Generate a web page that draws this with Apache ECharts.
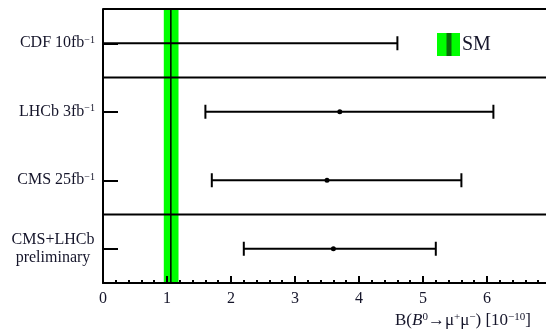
<!DOCTYPE html>
<html><head><meta charset="utf-8">
<script src="https://cdn.jsdelivr.net/npm/echarts@6/dist/echarts.min.js"></script>
<style>html,body{margin:0;padding:0;background:#fff}#c{width:546px;height:335px}</style>
</head><body><div id="c"></div>
<script>
const categories = ['CDF 10fb⁻¹', 'LHCb 3fb⁻¹', 'CMS 25fb⁻¹', 'CMS+LHCb\npreliminary'];
const lowEdge = [0, 1.6, 1.7, 2.2];
const highEdge = [4.6, 6.1, 5.6, 5.2];
const central = [null, 3.7, 3.5, 3.6];
const smLow = 0.95, smHigh = 1.18, smCentral = 1.06;
const rowBoundaries = [0, 1, 3];
const xMin = 0, xMax = 7, xStep = 1;
const axisTitle = '{n|B(}{i|B}{s|0}{n|→μ}{s|+}{n|μ}{s|−}{n|) [10}{s|−10}{n|]}';

const FONT = 'Liberation Serif';
const TXT = '#15152a';
const chart = echarts.init(document.getElementById('c'), null, {renderer: 'canvas'});

function fmtCat(v) {
  if (v.indexOf('\n') >= 0) {
    return v.split('\n').map(s => '{c|' + s + '}').join('\n');
  }
  return v.replace('⁻¹', '{s|−1}').replace(/^(.*?)\{/, '{n|$1}{');
}

chart.setOption({
  animation: false,
  grid: {left: 103, top: 9, width: 448, height: 274, containLabel: false, outerBoundsMode: 'none'},
  xAxis: [{
    type: 'value', min: xMin, max: xMax, interval: xStep, position: 'bottom', z: 6,
    splitLine: {show: false},
    axisLine: {show: true, onZero: false, lineStyle: {color: '#000', width: 2}},
    axisTick: {show: true, inside: true, length: 7, lineStyle: {color: '#000', width: 2}},
    minorTick: {show: true, splitNumber: 5, length: 3, lineStyle: {color: '#000', width: 2}},
    axisLabel: {fontFamily: FONT, fontSize: 16, color: TXT, margin: 8}
  }],
  yAxis: [{
    type: 'category', data: categories, inverse: true, z: 6,
    axisLine: {show: true, onZero: false, lineStyle: {color: '#000', width: 2}},
    axisTick: {show: true, inside: true, alignWithLabel: true, interval: 0, length: 15, lineStyle: {color: '#000', width: 2}},
    splitLine: {show: false},
    axisLabel: {
      interval: 0, margin: 8, color: TXT, fontFamily: FONT, fontSize: 16,
      formatter: fmtCat,
      rich: {
        n: {fontFamily: FONT, fontSize: 16, color: TXT},
        s: {fontFamily: FONT, fontSize: 10, color: TXT, verticalAlign: 'top', lineHeight: 16},
        c: {fontFamily: FONT, fontSize: 16, color: TXT, width: 84, align: 'center', lineHeight: 18}
      }
    }
  }, {
    type: 'value', min: 0, max: categories.length, inverse: true, show: false
  }],
  graphic: [
    {type: 'rect', shape: {x: 437, y: 33, width: 23, height: 23}, style: {fill: '#00ff00'}},
    {type: 'line', shape: {x1: 449, y1: 33, x2: 449, y2: 56}, style: {stroke: '#0a6a0a', lineWidth: 5}},
    {type: 'text', x: 462, y: 45, style: {text: 'SM', fontFamily: FONT, fontSize: 20, fill: TXT, verticalAlign: 'middle'}},
    {type: 'text', x: 395, y: 312, style: {
      text: axisTitle, verticalAlign: 'top',
      rich: {
        n: {fontFamily: FONT, fontSize: 17, fill: TXT, lineHeight: 18},
        i: {fontFamily: FONT, fontSize: 17, fontStyle: 'italic', fill: TXT, lineHeight: 18},
        s: {fontFamily: FONT, fontSize: 11, fill: TXT, verticalAlign: 'top', lineHeight: 18}
      }
    }}
  ],
  series: [{
    type: 'custom', name: 'SM', xAxisIndex: 0, yAxisIndex: 1, z: 1, silent: true,
    data: [[smLow, smHigh, smCentral]],
    renderItem: function (params, api) {
      const cs = params.coordSys;
      const a = api.coord([api.value(0), 0]);
      const b = api.coord([api.value(1), 0]);
      const c = api.coord([api.value(2), 0]);
      return {type: 'group', children: [
        {type: 'rect', shape: {x: a[0], y: cs.y, width: b[0] - a[0], height: cs.height}, style: {fill: '#00ff00'}},
        {type: 'line', shape: {x1: c[0], y1: cs.y, x2: c[0], y2: cs.y + cs.height}, style: {stroke: '#000', lineWidth: 1.5}}
      ]};
    }
  }, {
    type: 'custom', name: 'rowBoundaries', xAxisIndex: 0, yAxisIndex: 1, z: 3, silent: true,
    data: rowBoundaries.map(s => [s]),
    renderItem: function (params, api) {
      const cs = params.coordSys;
      const p = api.coord([0, api.value(0)]);
      return {type: 'line', shape: {x1: cs.x, y1: p[1], x2: cs.x + cs.width, y2: p[1]}, style: {stroke: '#000', lineWidth: 2}};
    }
  }, {
    type: 'custom', name: 'measurements', xAxisIndex: 0, yAxisIndex: 0, z: 5, silent: true,
    encode: {x: [1, 2, 3], y: 0},
    data: categories.map((c, i) => [i, lowEdge[i], highEdge[i], central[i] == null ? '-' : central[i]]),
    renderItem: function (params, api) {
      const i = api.value(0);
      const p1 = api.coord([api.value(1), i]);
      const p2 = api.coord([api.value(2), i]);
      const st = {stroke: '#000', lineWidth: 2};
      const ch = [
        {type: 'line', shape: {x1: p1[0], y1: p1[1], x2: p2[0], y2: p2[1]}, style: st},
        {type: 'line', shape: {x1: p1[0], y1: p1[1] - 7, x2: p1[0], y2: p1[1] + 7}, style: st},
        {type: 'line', shape: {x1: p2[0], y1: p2[1] - 7, x2: p2[0], y2: p2[1] + 7}, style: st}
      ];
      const cv = api.value(3);
      if (!isNaN(cv)) {
        const pc = api.coord([cv, i]);
        ch.push({type: 'circle', shape: {cx: pc[0], cy: pc[1], r: 2.5}, style: {fill: '#000'}});
      }
      return {type: 'group', children: ch};
    }
  }]
});
</script></body></html>
